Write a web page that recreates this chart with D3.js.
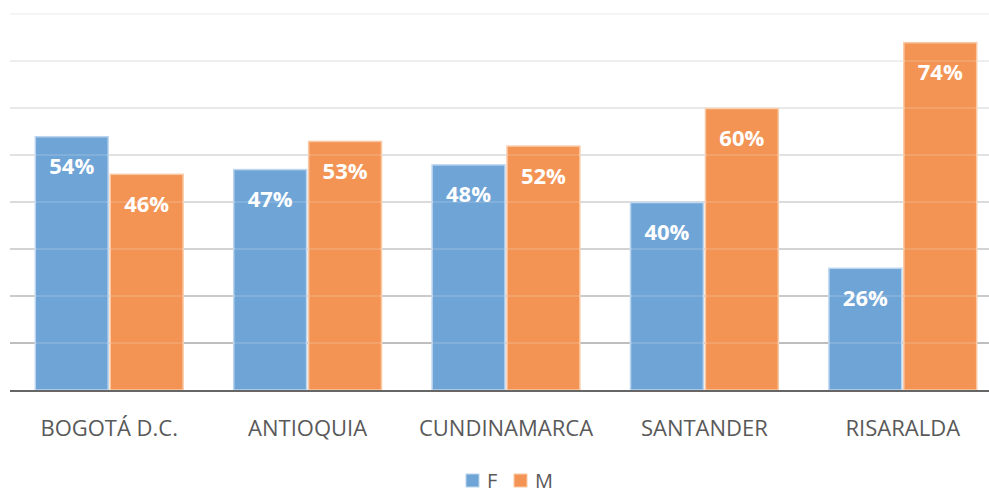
<!DOCTYPE html>
<html><head><meta charset="utf-8">
<script src="https://cdn.jsdelivr.net/npm/d3@7"></script>
<style>html,body{margin:0;padding:0;background:#fff;}svg{display:block;}</style>
</head><body>
<svg id="c" width="989" height="493"></svg>
<script>
const categories = ["BOGOTÁ D.C.", "ANTIOQUIA", "CUNDINAMARCA", "SANTANDER", "RISARALDA"];
const seriesNames = ["F", "M"];
const valuesF = [54, 47, 48, 40, 26];
const valuesM = [46, 53, 52, 60, 74];
const gridTicks = [10, 20, 30, 40, 50, 60, 70, 80];
const colors = {F: "#6FA4D6", M: "#F39455"};
const borders = {F: "#BCD5EE", M: "#F9C9A6"};
const gridColors = ["#b5b5b5", "#c2c2c2", "#cdcdcd", "#d6d6d6", "#dedede", "#e6e6e6", "#ececec", "#f3f3f3"];

const svg = d3.select("#c");
const font = "'Open Sans', 'DejaVu Sans', sans-serif";
const x0 = d3.scaleBand().domain(categories).range([10, 1002]).paddingInner(0.25).paddingOuter(0.125);
const x1 = d3.scaleBand().domain(seriesNames).range([0, x0.bandwidth()]).paddingInner(0.014);
const y = d3.scaleLinear().domain([0, 80]).range([390, 14]);

// gridlines
svg.append("g").selectAll("line").data(gridTicks).join("line")
  .attr("x1", 10).attr("x2", 989)
  .attr("y1", d => y(d)).attr("y2", d => y(d))
  .attr("stroke", (d, i) => gridColors[i]).attr("stroke-width", 2);

const data = categories.map((c, i) => ({cat: c, F: valuesF[i], M: valuesM[i]}));
const groups = svg.append("g").selectAll("g").data(data).join("g")
  .attr("transform", d => `translate(${x0(d.cat)},0)`);
const bars = groups.selectAll("g").data(d => seriesNames.map(s => ({s, v: d[s]}))).join("g");
bars.append("rect")
  .attr("x", d => x1(d.s) + 0.5).attr("width", x1.bandwidth() - 1)
  .attr("y", d => y(d.v) + 0.5).attr("height", d => y(0) - y(d.v) - 0.5)
  .attr("fill", d => colors[d.s]).attr("stroke", d => borders[d.s]).attr("stroke-width", 1.5);

// faint gridlines over bars
svg.append("g").selectAll("line").data(gridTicks).join("line")
  .attr("x1", 10).attr("x2", 989)
  .attr("y1", d => y(d)).attr("y2", d => y(d))
  .attr("stroke", "#fff").attr("stroke-opacity", 0.18).attr("stroke-width", 1.5);

bars.append("text")
  .attr("x", d => x1(d.s) + x1.bandwidth() / 2)
  .attr("y", d => y(d.v) + 38)
  .attr("text-anchor", "middle")
  .attr("fill", "#fff").attr("font-family", font).attr("font-weight", "bold").attr("font-size", 22)
  .text(d => d.v + "%");

// baseline
svg.append("line").attr("x1", 10).attr("x2", 989).attr("y1", y(0) + 1).attr("y2", y(0) + 1)
  .attr("stroke", "#666").attr("stroke-width", 2);

// x axis labels
const xAxis = d3.axisBottom(x0).tickSize(0).tickPadding(0);
const ax = svg.append("g").attr("transform", `translate(0,${y(0) + 2})`).call(xAxis);
ax.select(".domain").remove();
ax.selectAll("text").attr("y", 44).attr("dy", 0)
  .attr("fill", "#595959").attr("font-family", font).attr("font-size", 22);

// legend
const leg = svg.append("g").attr("transform", "translate(466,474)");
const items = leg.selectAll("g").data(seriesNames).join("g")
  .attr("transform", (d, i) => `translate(${i * 48},0)`);
items.append("rect").attr("width", 13).attr("height", 13)
  .attr("fill", d => colors[d]).attr("stroke", d => borders[d]).attr("stroke-width", 1);
items.append("text").attr("x", 21).attr("y", 14)
  .attr("fill", "#595959").attr("font-family", font).attr("font-size", 20).text(d => d);
</script>
</body></html>
